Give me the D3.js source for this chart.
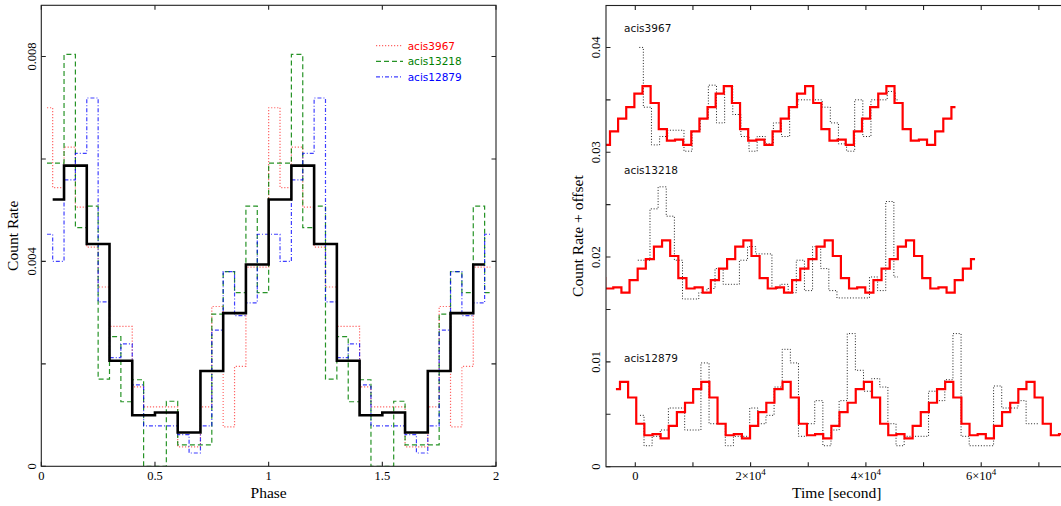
<!DOCTYPE html>
<html>
<head>
<meta charset="utf-8">
<script src="https://cdn.jsdelivr.net/npm/d3@7"></script>
<style>
  body { margin: 0; background: #fff; }
  svg text { font-family: "Liberation Serif", serif; }
  svg text.sans { font-family: "DejaVu Sans", sans-serif; }
</style>
</head>
<body>
<svg id="chart" width="1061" height="506"></svg>
<script>
// ---- left panel: folded pulse profiles (two cycles) ----
const phaseTicks = [0, 0.5, 1, 1.5, 2];
const phaseTickLabels = ['0', '0.5', '1', '1.5', '2'];
const rateTicks = [0, 0.002, 0.004, 0.006, 0.008];
const rateTickLabels = ['0', '', '0.004', '', '0.008'];

// 0.05-wide bins, points at bin centres 0.025 ... 1.975
const acis3967 = [0.0070, 0.00544, 0.00623, 0.00506, 0.00428, 0.0035, 0.00273, 0.00273, 0.00155, 0.00116,
  0.00116, 0.00116, 0.00038, 0.00038, 0.00116, 0.00312, 0.00077, 0.00195, 0.00389, 0.00389,
  0.0070, 0.00544, 0.00623, 0.00506, 0.00428, 0.0035, 0.00273, 0.00273, 0.00155, 0.00116,
  0.00116, 0.00116, 0.00038, 0.00038, 0.00116, 0.00312, 0.00077, 0.00195, 0.00389, 0.00389];
const acis13218 = [0.00592, 0.00592, 0.00804, 0.00466, 0.00508, 0.0017, 0.00253, 0.00126, 0.00169, 0,
  0, 0.00127, 0.00042, 0.00042, 0.00042, 0.00297, 0.0038, 0.00339, 0.00508, 0.00339,
  0.00592, 0.00592, 0.00804, 0.00466, 0.00508, 0.0017, 0.00253, 0.00126, 0.00169, 0,
  0, 0.00127, 0.00042, 0.00042, 0.00042, 0.00297, 0.0038, 0.00339, 0.00508, 0.00339];
const acis12879 = [0.00453, 0.0040, 0.00559, 0.00611, 0.00719, 0.00321, 0.00212, 0.00239, 0.00159, 0.00079,
  0.00079, 0.00079, 0.00062, 0.00026, 0.00079, 0.00266, 0.0038, 0.00294, 0.00319, 0.00453,
  0.00453, 0.0040, 0.00559, 0.00611, 0.00719, 0.00321, 0.00212, 0.00239, 0.00159, 0.00079,
  0.00079, 0.00079, 0.00062, 0.00026, 0.00079, 0.00266, 0.0038, 0.00294, 0.00319, 0.00453];
// combined profile, 0.1-wide bins, points at 0.05 ... 1.95
const combined = [0.00521, 0.00587, 0.00434, 0.00206, 0.000996, 0.00105, 0.00066, 0.00186, 0.00299, 0.00394,
  0.00521, 0.00587, 0.00434, 0.00206, 0.000996, 0.00105, 0.00066, 0.00186, 0.00299, 0.00394];

const seriesNames = ['acis3967', 'acis13218', 'acis12879'];
const seriesColors = ['#ff0000', '#008000', '#0000ff'];

// ---- right panel: light curves + model, with offsets ----
const timeTicks = [0, 20000, 40000, 60000];
const timeTickMantissa = ['', '2', '4', '6'];
const offsetTicks = [0, 0.01, 0.02, 0.03, 0.04];
const offsetTickLabels = ['0', '0.01', '0.02', '0.03', '0.04'];
const binWidth = 1410; // seconds

const model3967 = [0.0307, 0.0320, 0.0332, 0.0343, 0.0356, 0.0363, 0.0347, 0.0322, 0.0311, 0.0312,
  0.0307, 0.0320, 0.0332, 0.0343, 0.0356, 0.0363, 0.0347, 0.0322, 0.0311, 0.0312,
  0.0307, 0.0320, 0.0332, 0.0343, 0.0356, 0.0363, 0.0347, 0.0322, 0.0311, 0.0312,
  0.0307, 0.0320, 0.0332, 0.0343, 0.0356, 0.0363, 0.0347, 0.0322, 0.0311, 0.0312,
  0.0307, 0.0320, 0.0332, 0.0343];
const model13218 = [0.0180, 0.0170, 0.0171, 0.0166, 0.0178, 0.0189, 0.0198, 0.0210, 0.0216, 0.0201,
  0.0180, 0.0170, 0.0171, 0.0166, 0.0178, 0.0189, 0.0198, 0.0210, 0.0216, 0.0201,
  0.0180, 0.0170, 0.0171, 0.0166, 0.0178, 0.0189, 0.0198, 0.0210, 0.0216, 0.0201,
  0.0180, 0.0170, 0.0171, 0.0166, 0.0178, 0.0189, 0.0198, 0.0210, 0.0216, 0.0201,
  0.0180, 0.0170, 0.0171, 0.0166, 0.0178, 0.0189, 0.0198];
const model12879 = [0.0074, 0.0081, 0.0066, 0.0041, 0.0030, 0.0031, 0.0027, 0.0039, 0.0052, 0.0061,
  0.0074, 0.0081, 0.0066, 0.0041, 0.0030, 0.0031, 0.0027, 0.0039, 0.0052, 0.0061,
  0.0074, 0.0081, 0.0066, 0.0041, 0.0030, 0.0031, 0.0027, 0.0039, 0.0052, 0.0061,
  0.0074, 0.0081, 0.0066, 0.0041, 0.0030, 0.0031, 0.0027, 0.0039, 0.0052, 0.0061,
  0.0074, 0.0081, 0.0066, 0.0041, 0.0030, 0.0031, 0.0027, 0.0039, 0.0052, 0.0061,
  0.0074, 0.0081, 0.0066, 0.0041, 0.0030, 0.0031, 0.0027];

const lc3967 = [0.0400, 0.0343, 0.0307, 0.0315, 0.0321, 0.0321, 0.0301, 0.0320, 0.0332, 0.0364,
  0.0328, 0.0363, 0.0336, 0.0315, 0.0301, 0.0315, 0.0308, 0.0328, 0.0315, 0.0343,
  0.0350, 0.0350, 0.0350, 0.0343, 0.0328, 0.0308, 0.0301, 0.0350, 0.0315, 0.0350,
  0.0350, 0.0358, 0.0350];
const lc13218 = [0.0197, 0.0197, 0.0246, 0.0267, 0.0239, 0.0197, 0.0160, 0.0160, 0.0166, 0.0170, 0.0189,
  0.0174, 0.0174, 0.0197, 0.0210, 0.0203, 0.0203, 0.0170, 0.0174, 0.0166, 0.0197,
  0.0168, 0.0210, 0.0189, 0.0168, 0.0161, 0.0161, 0.0161, 0.0161, 0.0181, 0.0168,
  0.0253, 0.0181];
const lc12879 = [0.0049, 0.0020, 0.0029, 0.0035, 0.0056, 0.0056, 0.0035, 0.0035, 0.0099, 0.0041,
  0.0041, 0.0020, 0.0029, 0.0029, 0.0056, 0.0041, 0.0049, 0.0076, 0.0112, 0.0099,
  0.0029, 0.0041, 0.0063, 0.0020, 0.0035, 0.0063, 0.0127, 0.0092, 0.0072, 0.0084,
  0.0076, 0.0041, 0.0020, 0.0029, 0.0029, 0.0029, 0.0072, 0.0063, 0.0083, 0.0127,
  0.0029, 0.0020, 0.0020, 0.0020, 0.0077, 0.0056, 0.0056, 0.0063, 0.0041, 0.0041];

const curves = [
  { name: 'acis3967', model: model3967, modelStart: -5094, lc: lc3967, lcStart: 690, labelY: 32 },
  { name: 'acis13218', model: model13218, modelStart: -5931, lc: lc13218, lcStart: 435, labelY: 173.5 },
  { name: 'acis12879', model: model12879, modelStart: -3359, lc: lc12879, lcStart: 810, labelY: 362 }
];

// ---- drawing ----
const svg = d3.select('#chart');
const tickLen = 4.5;

function frame(g, x, y) {
  const [x0, x1] = x.range(), [y0, y1] = y.range();
  g.append('rect')
    .attr('x', x0).attr('y', y1)
    .attr('width', x1 - x0).attr('height', y0 - y1)
    .attr('fill', 'none')
    .attr('stroke', '#222')
    .attr('stroke-width', 1.1);
}

function xTicks(g, x, y, ticks) {
  const [y0, y1] = y.range();
  g.selectAll(null).data(ticks).enter().append('path')
    .attr('d', d => `M${x(d)},${y0}v${-tickLen}M${x(d)},${y1}v${tickLen}`)
    .attr('stroke', '#222').attr('stroke-width', 1.1);
}

function yTicks(g, x, y, ticks) {
  const [x0, x1] = x.range();
  g.selectAll(null).data(ticks).enter().append('path')
    .attr('d', d => `M${x0},${y(d)}h${tickLen}M${x1},${y(d)}h${-tickLen}`)
    .attr('stroke', '#222').attr('stroke-width', 1.1);
}

// Left panel
const xL = d3.scaleLinear().domain([0, 2]).range([41.3, 496]);
const yL = d3.scaleLinear().domain([0, 0.009]).range([466.3, 5.3]);
const gL = svg.append('g');

svg.append('clipPath').attr('id', 'clipL').append('rect')
  .attr('x', xL(0)).attr('y', yL(0.009))
  .attr('width', xL(2) - xL(0)).attr('height', yL(0) - yL(0.009));

const stepLine = (x, y) => d3.line().x(d => x(d[0])).y(d => y(d[1])).curve(d3.curveStep);
const lineL = stepLine(xL, yL);
const finePhase = d3.range(40).map(i => 0.025 + 0.05 * i);
const coarsePhase = d3.range(20).map(i => 0.05 + 0.1 * i);

const leftStyles = [
  { dash: '1.2,1.8', width: 1.2, opacity: 0.6 },
  { dash: '5,3', width: 1.2, opacity: 0.85 },
  { dash: '4,2,1,2', width: 1.2, opacity: 0.75 }
];
const plotL = gL.append('g').attr('clip-path', 'url(#clipL)');
[acis3967, acis13218, acis12879].forEach((vals, i) => {
  plotL.append('path')
    .datum(vals.map((v, j) => [finePhase[j], v]))
    .attr('d', lineL)
    .attr('fill', 'none')
    .attr('stroke', seriesColors[i])
    .attr('stroke-opacity', leftStyles[i].opacity)
    .attr('stroke-width', leftStyles[i].width)
    .attr('stroke-dasharray', leftStyles[i].dash);
});
plotL.append('path')
  .datum(combined.map((v, j) => [coarsePhase[j], v]))
  .attr('d', lineL)
  .attr('fill', 'none')
  .attr('stroke', '#000')
  .attr('stroke-width', 2.6);

frame(gL, xL, yL);
xTicks(gL, xL, yL, phaseTicks);
yTicks(gL, xL, yL, rateTicks);

gL.selectAll('.xlab').data(phaseTicks).enter().append('text')
  .attr('x', d => xL(d)).attr('y', 479.5)
  .attr('text-anchor', 'middle').attr('font-size', 12.5)
  .text((d, i) => phaseTickLabels[i]);
gL.selectAll('.ylab').data(rateTicks).enter().append('text')
  .attr('transform', d => `translate(36,${yL(d)}) rotate(-90)`)
  .attr('text-anchor', 'middle').attr('font-size', 12.5)
  .text((d, i) => rateTickLabels[i]);

gL.append('text').attr('x', xL(1)).attr('y', 497.5)
  .attr('text-anchor', 'middle').attr('font-size', 15.5).text('Phase');
gL.append('text').attr('transform', `translate(18,${(yL(0) + yL(0.009)) / 2}) rotate(-90)`)
  .attr('text-anchor', 'middle').attr('font-size', 15.5).text('Count Rate');

// legend
const legend = gL.append('g');
seriesNames.forEach((name, i) => {
  const ly = 45.7 + i * 15.6;
  legend.append('line')
    .attr('x1', 376).attr('x2', 403).attr('y1', ly).attr('y2', ly)
    .attr('stroke', seriesColors[i])
    .attr('stroke-opacity', leftStyles[i].opacity)
    .attr('stroke-width', leftStyles[i].width)
    .attr('stroke-dasharray', leftStyles[i].dash);
  legend.append('text').attr('class', 'sans')
    .attr('x', 407.7).attr('y', ly + 3.8)
    .attr('font-size', 10.5)
    .attr('fill', seriesColors[i])
    .text(name);
});

// Right panel
const xR = d3.scaleLinear().domain([-5080, 75000]).range([606, 1067.7]);
const yR = d3.scaleLinear().domain([0, 0.044]).range([466.7, 5.5]);
const gR = svg.append('g');

svg.append('clipPath').attr('id', 'clipR').append('rect')
  .attr('x', xR(-5080)).attr('y', yR(0.044))
  .attr('width', xR(75000) - xR(-5080)).attr('height', yR(0) - yR(0.044));

const lineR = stepLine(xR, yR);
const plotR = gR.append('g').attr('clip-path', 'url(#clipR)');
curves.forEach(c => {
  plotR.append('path')
    .datum(c.lc.map((v, j) => [c.lcStart + j * binWidth, v]))
    .attr('d', lineR)
    .attr('fill', 'none')
    .attr('stroke', '#222')
    .attr('stroke-width', 1)
    .attr('stroke-dasharray', '1,1.8');
  plotR.append('path')
    .datum(c.model.map((v, j) => [c.modelStart + j * binWidth, v]))
    .attr('d', lineR)
    .attr('fill', 'none')
    .attr('stroke', '#ff0000')
    .attr('stroke-width', 2.2);
  gR.append('text').attr('class', 'sans')
    .attr('x', 624).attr('y', c.labelY)
    .attr('font-size', 10.5)
    .attr('fill', '#111')
    .text(c.name);
});

frame(gR, xR, yR);
xTicks(gR, xR, yR, d3.range(0, 80000, 10000));
yTicks(gR, xR, yR, d3.range(0, 0.0401, 0.005));

const xlabR = gR.selectAll('.xlabR').data(timeTicks).enter().append('text')
  .attr('x', d => xR(d)).attr('y', 480)
  .attr('text-anchor', 'middle').attr('font-size', 12.5);
xlabR.each(function(d, i) {
  const t = d3.select(this);
  if (d === 0) { t.text('0'); return; }
  t.append('tspan').text(timeTickMantissa[i] + '\u00d710');
  t.append('tspan').attr('dy', -5).attr('font-size', 9).text('4');
});
gR.selectAll('.ylabR').data(offsetTicks).enter().append('text')
  .attr('transform', d => `translate(600,${yR(d)}) rotate(-90)`)
  .attr('text-anchor', 'middle').attr('font-size', 12.5)
  .text((d, i) => offsetTickLabels[i]);

gR.append('text').attr('x', 836.8).attr('y', 497.5)
  .attr('text-anchor', 'middle').attr('font-size', 15.5).text('Time [second]');
gR.append('text').attr('transform', `translate(583,${(yR(0) + yR(0.044)) / 2}) rotate(-90)`)
  .attr('text-anchor', 'middle').attr('font-size', 15.5).text('Count Rate + offset');
</script>
</body>
</html>
